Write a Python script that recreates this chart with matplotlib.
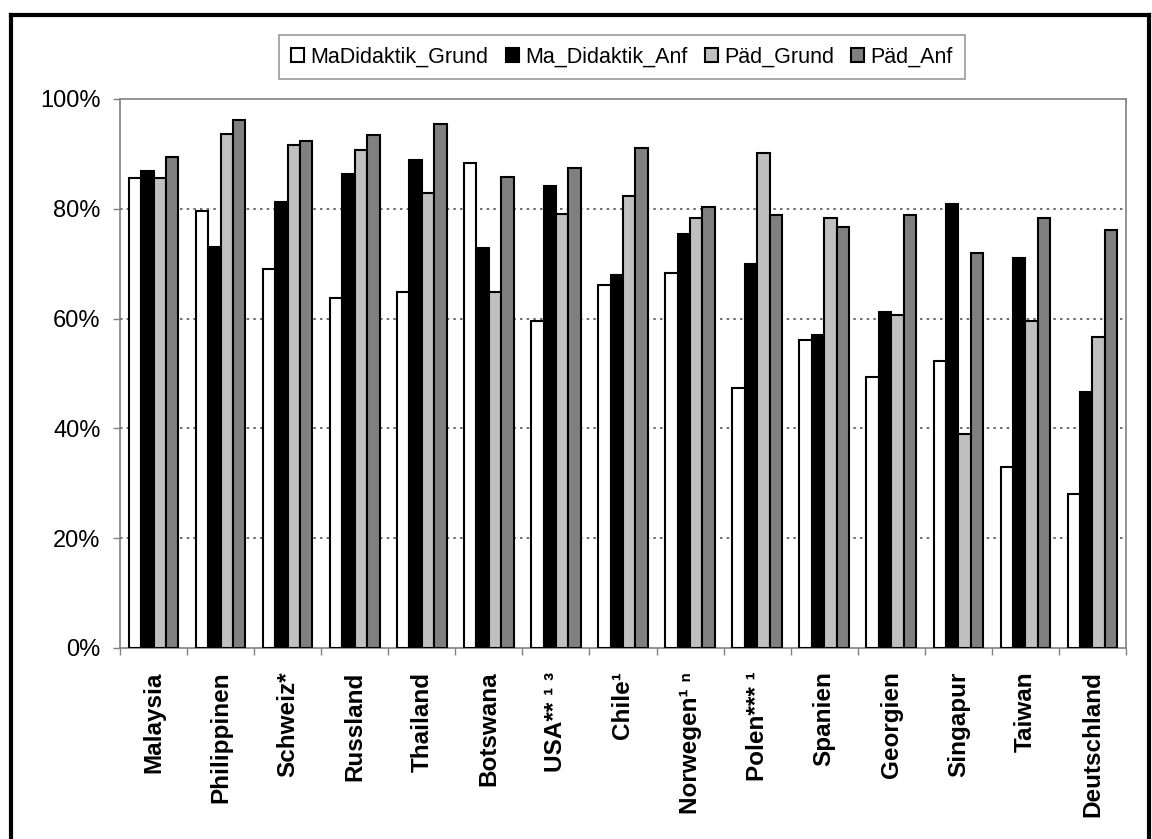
import matplotlib
matplotlib.use("Agg")
import matplotlib.pyplot as plt
import numpy as np
from matplotlib.lines import Line2D
from matplotlib.ticker import PercentFormatter, FixedLocator

plt.rcParams['font.family'] = ['Liberation Sans', 'DejaVu Sans']

countries = ["Malaysia", "Philippinen", "Schweiz*", "Russland", "Thailand",
             "Botswana", "USA** ¹ ³", "Chile¹", "Norwegen¹ ⁿ", "Polen*** ¹",
             "Spanien", "Georgien", "Singapur", "Taiwan", "Deutschland"]

series_names = ["MaDidaktik_Grund", "Ma_Didaktik_Anf", "Päd_Grund", "Päd_Anf"]

ma_grund = [85.7, 79.6, 69.1, 63.8, 64.9, 88.3, 59.6, 66.2, 68.3, 47.3,
            56.1, 49.4, 52.3, 33.0, 28.0]
ma_anf = [86.8, 73.0, 81.2, 86.3, 88.8, 72.9, 84.2, 67.9, 75.4, 70.0,
          57.1, 61.2, 80.8, 71.1, 46.6]
paed_grund = [85.7, 93.7, 91.6, 90.8, 82.9, 64.9, 79.0, 82.4, 78.3, 90.1,
              78.3, 60.6, 39.0, 59.5, 56.6]
paed_anf = [89.5, 96.2, 92.3, 93.4, 95.4, 85.8, 87.5, 91.1, 80.3, 78.8,
            76.6, 78.8, 71.9, 78.3, 76.2]

series = [ma_grund, ma_anf, paed_grund, paed_anf]
colors = ["#FFFFFF", "#000000", "#C0C0C0", "#808080"]

fig = plt.figure(figsize=(11.52, 8.39), dpi=100)
ax = fig.add_axes([120 / 1152, 1 - 648 / 839, (1126 - 120) / 1152, (648 - 99) / 839])

n = len(countries)
x = np.arange(n)
bw = 0.185
offsets = (np.arange(4) - 1.5) * bw

for vals, off, col, name in zip(series, offsets, colors, series_names):
    ax.bar(x + off, vals, width=bw, color=col, edgecolor="black",
           linewidth=1.5, label=name, zorder=3)

ax.set_xlim(-0.5, n - 0.5)
ax.set_ylim(0, 100)

ax.yaxis.set_major_locator(FixedLocator([0, 20, 40, 60, 80, 100]))
ax.yaxis.set_major_formatter(PercentFormatter(decimals=0))
for gy in [20, 40, 60, 80]:
    ax.axhline(gy, color="#555555", linewidth=1.2, linestyle=(0, (1.5, 2.5)), zorder=1)

ax.set_xticks(x)
ax.set_xticklabels(countries, rotation=90, fontsize=17.5, fontweight="bold",
                   va="top", ha="center")
ax.xaxis.set_minor_locator(FixedLocator(np.arange(-0.5, n, 1.0)))
ax.tick_params(axis="x", which="major", length=0, pad=17)
ax.tick_params(axis="x", which="minor", length=5, width=1, color="#808080", direction="out")
ax.tick_params(axis="y", which="major", length=5, width=1, color="#808080",
               direction="out", labelsize=17, pad=9)

for s in ax.spines.values():
    s.set_color("#808080")
    s.set_linewidth(1.2)

handles = [plt.Rectangle((0, 0), 1, 1, facecolor=c, edgecolor="black", linewidth=1.5)
           for c in colors]
leg = fig.legend(handles, series_names, loc="center",
                 bbox_to_anchor=(622 / 1152, 1 - 57 / 839), ncol=4,
                 fontsize=15.5, frameon=True, fancybox=False, borderaxespad=0,
                 handlelength=0.6, handleheight=0.6, handletextpad=0.3,
                 columnspacing=0.8, borderpad=0.55)
leg.get_frame().set_edgecolor("#808080")
leg.get_frame().set_linewidth(1.2)

# outer frame around the whole figure
frame_kw = dict(color="black", linewidth=3, transform=fig.transFigure, solid_capstyle="projecting")
fig.add_artist(Line2D([11 / 1152, 1149 / 1152], [1 - 15 / 839, 1 - 15 / 839], **frame_kw))
fig.add_artist(Line2D([11 / 1152, 11 / 1152], [1 - 15 / 839, 0], **frame_kw))
fig.add_artist(Line2D([1149 / 1152, 1149 / 1152], [1 - 15 / 839, 0], **frame_kw))

fig.savefig("out.png", dpi=100)
